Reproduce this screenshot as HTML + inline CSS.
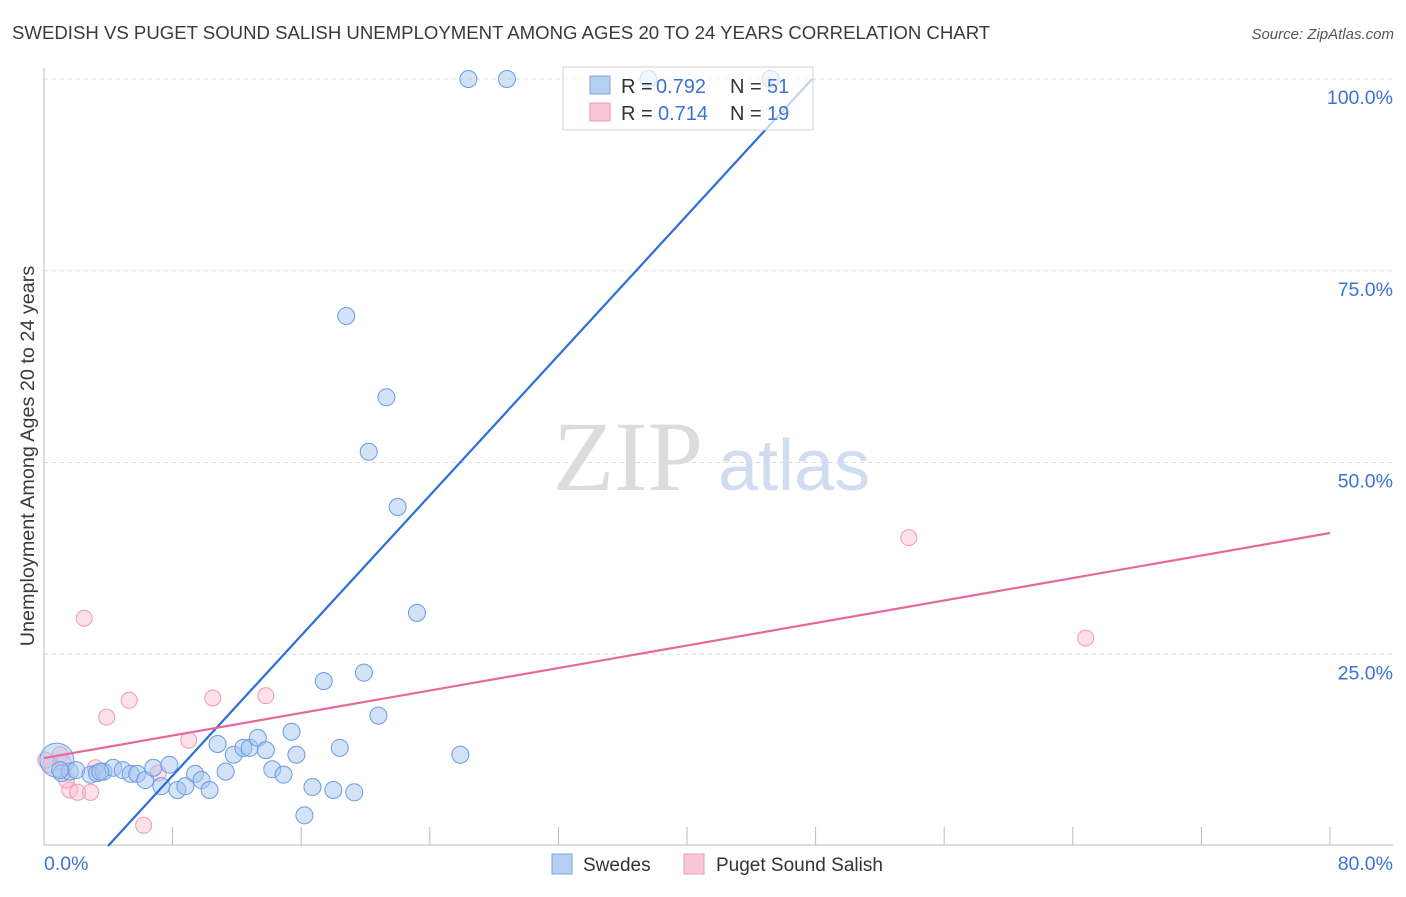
<!DOCTYPE html>
<html><head><meta charset="utf-8"><style>
body{margin:0;background:#fff;font-family:"Liberation Sans",sans-serif;}
</style></head><body>
<svg id="chart" width="1406" height="892" xmlns="http://www.w3.org/2000/svg" font-family="Liberation Sans, sans-serif">
<text x="12" y="39" font-size="18.6" fill="#3a3a3a">SWEDISH VS PUGET SOUND SALISH UNEMPLOYMENT AMONG AGES 20 TO 24 YEARS CORRELATION CHART</text>
<text x="1394" y="39" font-size="15" fill="#555" font-style="italic" text-anchor="end">Source: ZipAtlas.com</text>
<g>
<text x="553" y="490" font-size="100" fill="#dcdcdc" style="font-family:'Liberation Serif',serif">ZIP</text>
<text x="718" y="490" font-size="72" fill="#cfdcf2">atlas</text>
</g>
<g id="grid"></g>
<g id="axes"></g>
<g id="points"></g>
<g id="lines"></g>
<text transform="translate(34,456) rotate(-90)" font-size="19.8" fill="#3a3a3a" text-anchor="middle">Unemployment Among Ages 20 to 24 years</text>
<g>
<rect x="563" y="67" width="250" height="63" fill="rgba(255,255,255,0.7)" stroke="#d0d0d0"/>
<rect x="590" y="76" width="20" height="18" fill="#b7d0f2" stroke="#7aa4e0"/>
<rect x="590" y="103" width="20" height="18" fill="#f9c8d6" stroke="#eb9ab4"/>
<text x="621" y="93" font-size="20" fill="#333">R = </text><text x="656" y="93" font-size="20" fill="#3b74d0">0.792</text>
<text x="730" y="93" font-size="20" fill="#333">N = </text><text x="767" y="93" font-size="20" fill="#3b74d0">51</text>
<text x="621" y="120" font-size="20" fill="#333">R = </text><text x="658" y="120" font-size="20" fill="#3b74d0">0.714</text>
<text x="730" y="120" font-size="20" fill="#333">N = </text><text x="767" y="120" font-size="20" fill="#3b74d0">19</text>
</g>
<g>
<rect x="552" y="854" width="20" height="20" fill="#b7d0f2" stroke="#7aa4e0"/>
<text x="583" y="871" font-size="19" fill="#333">Swedes</text>
<rect x="684" y="854" width="20" height="20" fill="#f9c8d6" stroke="#eb9ab4"/>
<text x="716" y="871" font-size="19" fill="#333">Puget Sound Salish</text>
</g>
</svg>
<script>
const yTicks=[25,50,75,100];
const yTickLabels=["25.0%","50.0%","75.0%","100.0%"];
const xTickCount=10;
const blueX=[0.8,1.1,1.6,2.0,2.9,3.3,3.7,4.3,4.9,5.4,5.8,6.3,6.8,7.3,7.8,8.3,8.8,9.4,9.8,10.3,10.8,11.3,11.8,12.4,12.8,13.3,13.8,14.2,14.9,15.4,15.7,16.2,16.7,17.4,18.0,18.4,19.3,19.9,20.8,25.9,23.2,22.0,20.2,21.3,18.8,26.4,28.8,37.6,45.2,3.5,1.0];
const blueY=[11.2,9.5,9.7,9.9,9.3,9.5,9.7,10.2,9.9,9.4,9.4,8.6,10.2,7.8,10.6,7.3,7.8,9.4,8.6,7.3,13.3,9.7,11.9,12.8,12.8,14.1,12.5,10.0,9.3,14.9,11.9,4.0,7.7,21.5,7.3,12.8,7.0,22.6,17.0,11.9,30.4,44.2,51.4,58.5,69.1,100,100,100,100,9.7,9.9];
const pinkX=[2.5,3.9,5.3,10.5,13.8,9.0,7.1,6.2,1.0,0.4,1.6,2.1,2.9,3.2,53.8,64.8,1.2,1.4,0.1];
const pinkY=[29.7,16.8,19.0,19.3,19.6,13.8,9.5,2.7,11.9,10.6,7.3,7.0,7.0,10.2,40.2,27.1,10.8,8.6,11.2];
const blueTrend=[-9.09,2.283];
const pinkTrend=[11.47,0.3667];
const NS="http://www.w3.org/2000/svg";
const X0=44,X1=1330,Y0=846,Y1=79;
function sx(v){return X0+v/80*(X1-X0);}
function sy(v){return Y0-v/100*(Y0-Y1);}
function mk(t,a,p){const e=document.createElementNS(NS,t);for(const k in a)e.setAttribute(k,a[k]);p.appendChild(e);return e;}
const grid=document.getElementById('grid'),axes=document.getElementById('axes'),pts=document.getElementById('points'),lines=document.getElementById('lines');
yTicks.forEach((t,i)=>{
 const g=mk('line',{x1:X0,x2:1393,y1:sy(t),y2:sy(t),stroke:'#dcdcdc','stroke-dasharray':'4,4'},grid);
 
 
 const tx=mk('text',{x:1393,y:sy(t)+25,'font-size':19.5,fill:'#3b74d0','text-anchor':'end'},axes);
 tx.textContent=yTickLabels[i];
 
 
});
const ax=mk('line',{x1:X0,x2:1393,y1:845,y2:845,stroke:'#bbb'},axes);


const ay=mk('line',{x1:X0,x2:X0,y1:68,y2:845,stroke:'#bbb'},axes);


for(let i=1;i<=xTickCount;i++){
 const t=mk('line',{x1:sx(i*8),x2:sx(i*8),y1:827,y2:845,stroke:'#bbb'},axes);
 
 
}
const l0=mk('text',{x:44,y:870,'font-size':19.5,fill:'#3b74d0'},axes);l0.textContent='0.0%';


const l1=mk('text',{x:1393,y:870,'font-size':19.5,fill:'#3b74d0','text-anchor':'end'},axes);l1.textContent='80.0%';


pinkX.forEach((x,i)=>{
 const c=mk('circle',{cx:sx(x),cy:sy(pinkY[i]),r:8,fill:'rgba(248,188,208,0.45)',stroke:'#ec9ab5','stroke-width':1},pts);
 
 
});
blueX.forEach((x,i)=>{
 const c=mk('circle',{cx:sx(x),cy:sy(blueY[i]),r:i===0?17:8.5,fill:'rgba(165,198,240,0.5)',stroke:'#6b9be0','stroke-width':1},pts);
 
 
});
function trend(tr,xa,xb,col,name){
 const e=mk('line',{x1:sx(xa),y1:sy(tr[0]+tr[1]*xa),x2:sx(xb),y2:sy(tr[0]+tr[1]*xb),stroke:col,'stroke-width':2.2},lines);
 
 
}
const bStart=-blueTrend[0]/blueTrend[1], bEnd=(100-blueTrend[0])/blueTrend[1];
trend(blueTrend,bStart,bEnd,'#2a6fd6','swedes-trendline');
trend(pinkTrend,0,80,'#e8689a','puget-trendline');
</script>
</body></html>
